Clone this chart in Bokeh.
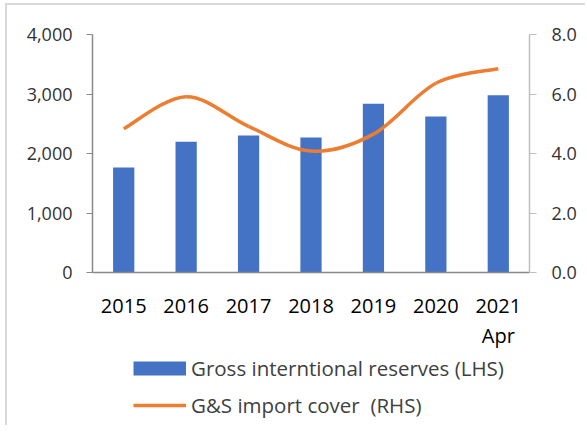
from bokeh.plotting import figure
from bokeh.layouts import column
from bokeh.models import (Range1d, LinearAxis, Legend, LegendItem, FixedTicker,
                          NumeralTickFormatter, ColumnDataSource)
from bokeh.embed import file_html
from bokeh.resources import INLINE

years = ["2015", "2016", "2017", "2018", "2019", "2020", "2021"]
sublabels = {6: "Apr"}
reserves = [1765, 2197, 2303, 2269, 2835, 2622, 2980]
import_cover = [4.83, 5.91, 4.91, 4.08, 4.65, 6.36, 6.85]
series_names = ["Gross interntional reserves (LHS)", "G&S import cover  (RHS)"]

FONT = "Open Sans"
BLUE = "#4472C4"
ORANGE = "#ED7D31"

xs = list(range(len(years)))

p = figure(width=578, height=352, output_backend="svg", toolbar_location=None,
           x_range=Range1d(-0.5, len(years) - 0.5), y_range=Range1d(0, 4000),
           min_border_left=85, min_border_right=56, min_border_top=29,
           min_border_bottom=85)
p.outline_line_color = None
p.xgrid.visible = False
p.ygrid.visible = False
p.extra_y_ranges = {"right": Range1d(0, 8)}

src = ColumnDataSource(dict(x=xs, top=reserves))
p.vbar(x="x", top="top", width=0.34, source=src, fill_color=BLUE, line_color=None)

# Smoothed line (Excel-style Catmull-Rom bezier) through the data points
n = len(xs)
x0, y0, x1, y1, cx0, cy0, cx1, cy1 = [], [], [], [], [], [], [], []
for i in range(n - 1):
    pm = max(i - 1, 0)
    pn = min(i + 2, n - 1)
    x0.append(xs[i]); y0.append(import_cover[i])
    x1.append(xs[i + 1]); y1.append(import_cover[i + 1])
    cx0.append(xs[i] + (xs[i + 1] - xs[pm]) / 6)
    cy0.append(import_cover[i] + (import_cover[i + 1] - import_cover[pm]) / 6)
    cx1.append(xs[i + 1] - (xs[pn] - xs[i]) / 6)
    cy1.append(import_cover[i + 1] - (import_cover[pn] - import_cover[i]) / 6)
p.bezier(x0=x0, y0=y0, x1=x1, y1=y1, cx0=cx0, cy0=cy0, cx1=cx1, cy1=cy1,
         line_color=ORANGE, line_width=3.5, y_range_name="right")

# axes
xa = p.xaxis[0]
xa.ticker = FixedTicker(ticks=xs)
xa.major_label_overrides = {i: y for i, y in enumerate(years)}
xa.major_tick_out = 0
xa.major_tick_in = 0
xa.minor_tick_line_color = None
xa.axis_line_color = "#898989"
xa.axis_line_width = 1.5
xa.major_label_text_font = FONT
xa.major_label_text_font_size = "20px"
xa.major_label_text_color = "#000000"
xa.major_label_standoff = 26

xa2 = LinearAxis(ticker=FixedTicker(ticks=list(sublabels.keys())),
                 major_label_overrides=sublabels)
xa2.axis_line_color = None
xa2.major_tick_line_color = None
xa2.minor_tick_line_color = None
xa2.major_tick_out = 0
xa2.major_tick_in = 0
xa2.major_label_text_font = FONT
xa2.major_label_text_font_size = "20px"
xa2.major_label_text_color = "#000000"
xa2.major_label_standoff = 6
p.add_layout(xa2, "below")

ya = p.yaxis[0]
ya.ticker = FixedTicker(ticks=[0, 1000, 2000, 3000, 4000])
ya.formatter = NumeralTickFormatter(format="0,0")
ya.major_tick_out = 6
ya.major_tick_in = 0
ya.minor_tick_line_color = None
ya.axis_line_color = "#898989"
ya.major_tick_line_color = "#898989"
ya.axis_line_width = 1.5
ya.major_label_text_font = FONT
ya.major_label_text_font_size = "18px"
ya.major_label_text_color = "#333333"
ya.major_label_standoff = 14

ra = LinearAxis(y_range_name="right")
ra.ticker = FixedTicker(ticks=[0, 2, 4, 6, 8])
ra.formatter = NumeralTickFormatter(format="0.0")
ra.major_tick_out = 7
ra.major_tick_in = 0
ra.minor_tick_line_color = None
ra.axis_line_color = "#bfbfbf"
ra.major_tick_line_color = "#bfbfbf"
ra.axis_line_width = 1.5
ra.major_label_text_font = FONT
ra.major_label_text_font_size = "18px"
ra.major_label_text_color = "#333333"
ra.major_label_standoff = 15
p.add_layout(ra, "right")

# legend figure (proxy glyphs lie outside its visible range)
lf = figure(width=578, height=78, output_backend="svg", toolbar_location=None,
            x_range=Range1d(0, 1), y_range=Range1d(0, 1),
            x_axis_location=None, y_axis_location=None, min_border=0)
lf.outline_line_color = None
lf.xgrid.visible = False
lf.ygrid.visible = False
lf.background_fill_alpha = 0
lf.border_fill_alpha = 0
lf.styles = {"margin-top": "-10px"}
bar_proxy = lf.line(x=[5, 6], y=[5, 5], line_color=BLUE, line_width=14)
line_proxy = lf.line(x=[5, 6], y=[5, 5], line_color=ORANGE, line_width=3.5)

legend = Legend(items=[
    LegendItem(label=series_names[0], renderers=[bar_proxy]),
    LegendItem(label=series_names[1], renderers=[line_proxy]),
], location=(41, 5), orientation="vertical")
legend.border_line_color = None
legend.background_fill_alpha = 0
legend.padding = 0
legend.margin = 0
legend.spacing = 7
legend.glyph_width = 53
legend.glyph_height = 30
legend.label_height = 30
legend.label_standoff = 5
legend.label_text_font = FONT
legend.label_text_font_size = "20.5px"
legend.label_text_color = "#404040"
lf.add_layout(legend, "center")

layout = column(p, lf, spacing=0)
layout.styles = {"border-left": "2px solid #d9d9d9", "border-top": "2px solid #d9d9d9",
                 "margin-left": "5px", "margin-top": "3px"}

open("out.html", "w").write(file_html(layout, INLINE))
